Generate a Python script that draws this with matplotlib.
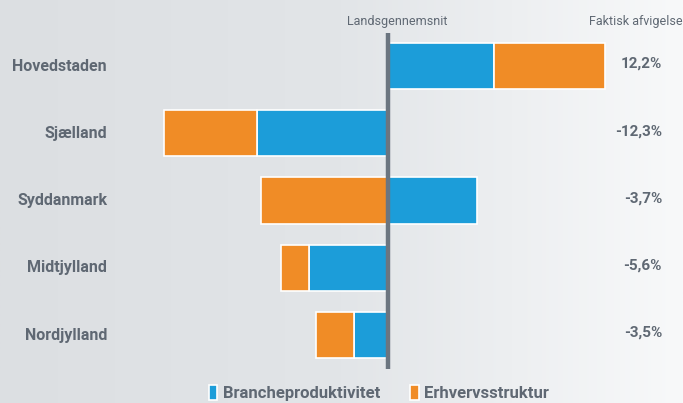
# -*- coding: utf-8 -*-

# Afvigelse fra landsgennemsnittet fordelt på brancheproduktivitet og erhvervsstruktur

import numpy as np
import matplotlib.pyplot as plt
from matplotlib.colors import LinearSegmentedColormap

regioner = ['Hovedstaden', 'Sjælland', 'Syddanmark', 'Midtjylland', 'Nordjylland']
branche = [6.0, -7.35, 5.05, -4.4, -1.9]
erhverv = [6.2, -5.2, -7.1, -1.6, -2.1]
afvigelse = ['12,2%', '-12,3%', '-3,7%', '-5,6%', '-3,5%']

blaa = '#1c9dd9'
orange = '#f08c26'
graa = '#5f6873'

plt.rcParams['font.family'] = ['Roboto', 'DejaVu Sans']

fig = plt.figure(figsize=(6.83, 4.03), dpi=100)

# baggrund med svag gradient
bg = fig.add_axes([0, 0, 1, 1])
grad = np.linspace(0, 1, 256).reshape(1, -1)
cmap = LinearSegmentedColormap.from_list('bg', ['#dcdfe2', '#e2e5e8', '#f8f9fa'])
bg.imshow(grad, aspect='auto', cmap=cmap, extent=[0, 1, 0, 1])
bg.axis('off')

ax = fig.add_axes([0, 0, 1, 1], facecolor='none')
skala = 17.8
x0 = 387.6
ax.set_xlim(-x0 / skala, (683 - x0) / skala)
ax.set_ylim((403 - 66) / 67.25, -66 / 67.25)
ax.axis('off')

y = np.arange(len(regioner))
# orange stables udenpå den blå søjle når begge har samme fortegn
venstre = [b if np.sign(b) == np.sign(e) else 0 for b, e in zip(branche, erhverv)]
ax.barh(y, branche, height=0.69, color=blaa, edgecolor='white', linewidth=1.2,
        label='Brancheproduktivitet')
ax.barh(y, erhverv, left=venstre, height=0.69, color=orange, edgecolor='white',
        linewidth=1.2, label='Erhvervsstruktur')

ax.plot([0, 0], [(33 - 66) / 67.25, (369 - 66) / 67.25], color='#6b7580', lw=3.2,
        solid_capstyle='butt')

xl = (107 - x0) / skala
xr = (662 - x0) / skala
for i, navn in enumerate(regioner):
    ax.text(xl, i, navn, ha='right', va='center', fontsize=11.5, fontweight='bold', color=graa)
    ax.text(xr, i - 0.03, afvigelse[i], ha='right', va='center', fontsize=11,
            fontweight='bold', color=graa)

ytop = (21 - 66) / 67.25
ax.text((397 - x0) / skala, ytop, 'Landsgennemsnit', ha='center', va='center',
        fontsize=9, color=graa)
ax.text((683 - x0) / skala, ytop, 'Faktisk afvigelse', ha='right', va='center',
        fontsize=9, color=graa)

ax.legend(loc='center', bbox_to_anchor=(0.555, 1 - 393 / 403), ncol=2, frameon=False,
          handlelength=0.5, handleheight=1.0, handletextpad=0.35, columnspacing=1.8,
          prop={'size': 12, 'weight': 'bold'}, labelcolor=graa)

plt.savefig('out.png', dpi=100)
